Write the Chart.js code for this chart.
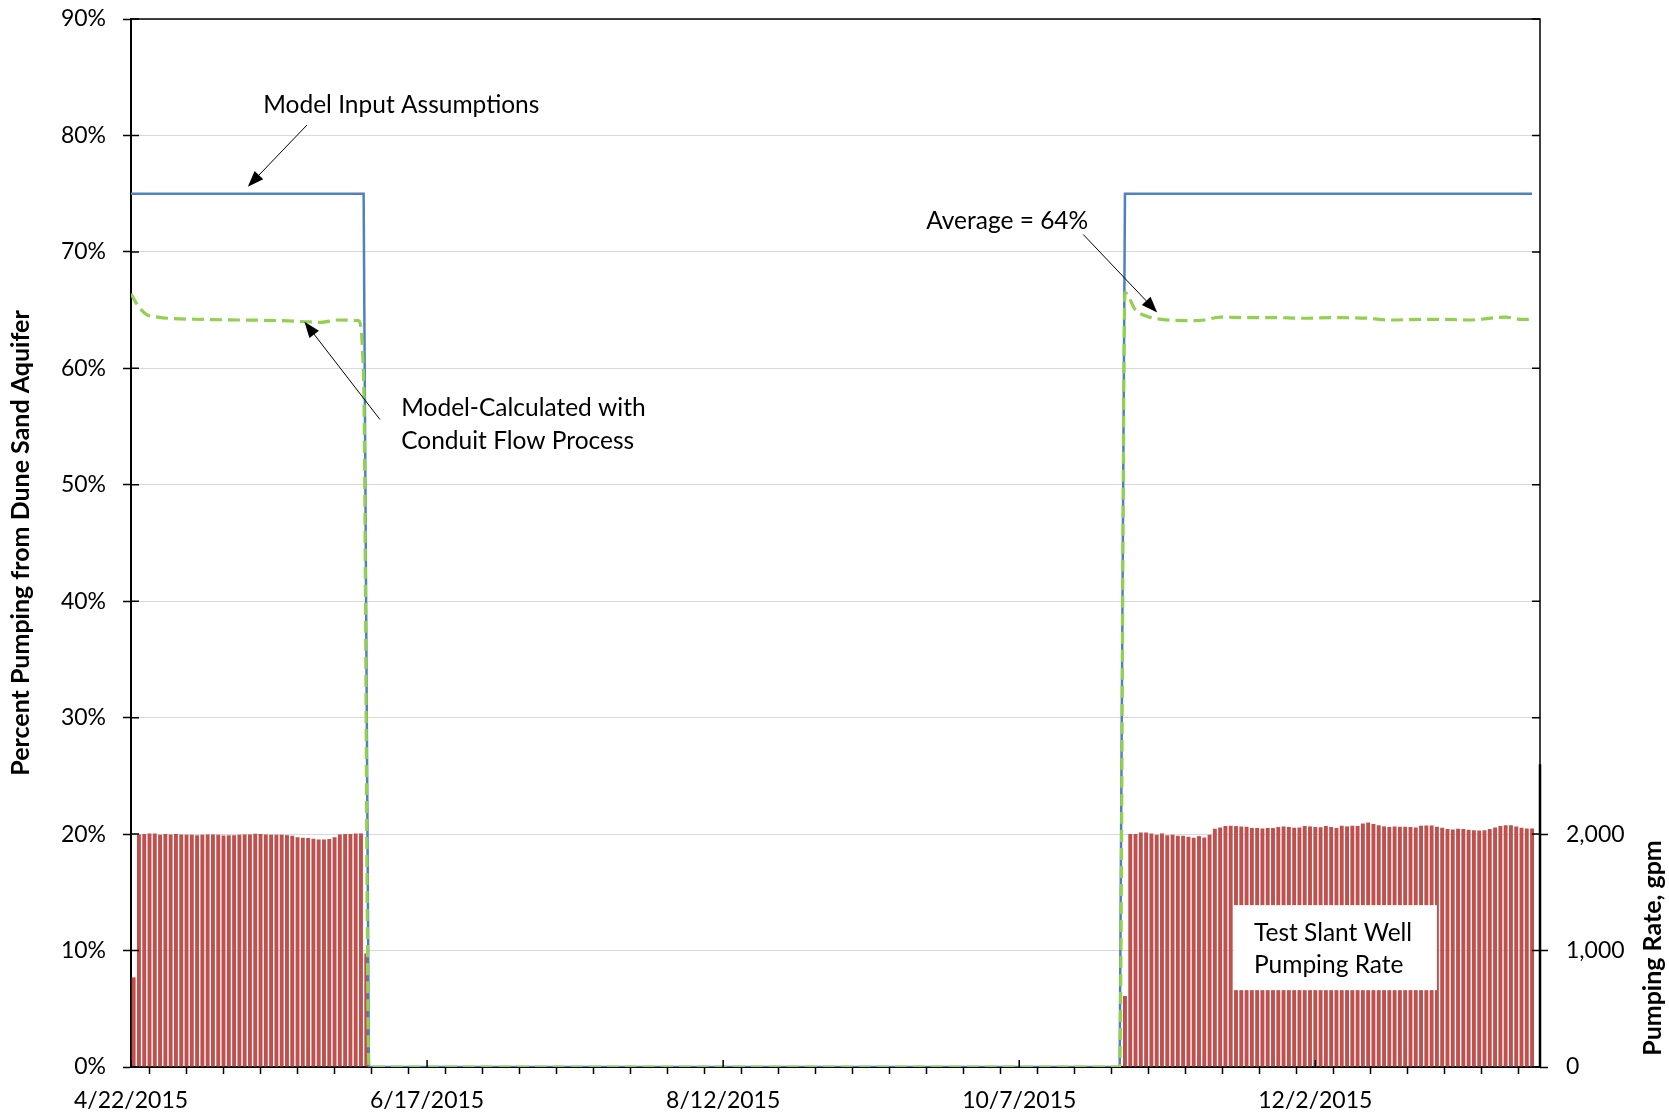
<!DOCTYPE html>
<html>
<head>
<meta charset="utf-8">
<title>Percent Pumping from Dune Sand Aquifer</title>
<script src="https://cdn.jsdelivr.net/npm/chart.js@4.4.0/dist/chart.umd.min.js"></script>
<style>
  body { margin: 0; background: #fff; }
  #wrap { width: 1669px; height: 1115px; }
</style>
</head>
<body>
<div id="wrap"><canvas id="pumpChart" width="1669" height="1115"></canvas></div>
<script>
// day 0 = 4/22/2015
const startDate = new Date(2015, 3, 22);

// Test slant well pumping rate (gpm), one bar per day
const pumpStart1 = 0;
const pumpRate1 = [770,
    1997, 2000, 2006, 2006, 1994, 2000, 1997, 2000, 1997, 1994,
    1994, 1991, 1994, 1997, 1997, 1994, 1989, 1991, 1991, 1994,
    1997, 1997, 2003, 2000, 1997, 1994, 1994, 1994, 1991, 1986,
    1974, 1968, 1966, 1960, 1954, 1954, 1957, 1974, 1997, 2000,
    2000, 2006, 2006,
    975];
const pumpStart2 = 188;
const pumpRate2 = [610,
    2000, 2000, 2014, 2014, 2006, 1994, 2006, 1991, 1994, 1986,
    1986, 1977, 1968, 1983, 1971, 1994, 2046, 2057, 2069, 2072,
    2069, 2066, 2063, 2052, 2052, 2049, 2052, 2052, 2060, 2066,
    2060, 2055, 2057, 2069, 2066, 2060, 2058, 2069, 2060, 2052,
    2072, 2066, 2072, 2069, 2092, 2100, 2086, 2077, 2066, 2060,
    2066, 2063, 2063, 2060, 2057, 2072, 2074, 2074, 2063, 2055,
    2043, 2040, 2046, 2043, 2037, 2034, 2032, 2034, 2043, 2057,
    2069, 2077, 2077, 2066, 2055, 2049, 2049];

// Model input assumptions (%)
const inputDays = [0, 44, 45, 187, 188, 265];
const inputPct = [75, 75, 0, 0, 75, 75];

// Model-calculated with conduit flow process (%)
const cfpDays = [0, 1, 2, 3, 5, 7, 14, 21, 28, 33, 36, 39, 43, 44, 45,
    187, 188, 190, 192, 195, 200, 203, 206, 211, 217, 221, 227, 234, 238, 244, 248, 253, 260, 263, 265];
const cfpPct = [66.4, 65.6, 65.0, 64.6, 64.4, 64.3, 64.2, 64.15, 64.1, 64.0, 63.95, 64.15, 64.1, 59, 0,
    0, 66.5, 65.0, 64.5, 64.2, 64.1, 64.15, 64.4, 64.35, 64.35, 64.3, 64.35, 64.3, 64.15, 64.2, 64.2, 64.15, 64.4, 64.2, 64.2];

// axis ticks
const weekTicks = [];
for (let d = 0; d <= 266; d += 7) weekTicks.push(d);
const pctTicks = [0, 10, 20, 30, 40, 50, 60, 70, 80, 90];
const gpmTicks = [0, 1000, 2000];

function dayLabel(d) {
    const t = new Date(startDate.getTime());
    t.setDate(t.getDate() + d);
    return (t.getMonth() + 1) + '/' + t.getDate() + '/' + t.getFullYear();
}

function toPoints(days, vals) {
    return days.map((d, i) => ({ x: d, y: vals[i] }));
}

const pumpPoints = pumpRate1.map((v, i) => ({ x: pumpStart1 + i + 0.5, y: v }))
    .concat(pumpRate2.map((v, i) => ({ x: pumpStart2 + i, y: v })));

Chart.defaults.font.family = 'Lato';
Chart.defaults.color = '#000';

function arrow(ctx, x1, y1, x2, y2) {
    const ang = Math.atan2(y2 - y1, x2 - x1);
    const len = 16, w = 6;
    ctx.beginPath();
    ctx.moveTo(x1, y1);
    ctx.lineTo(x2 - Math.cos(ang) * len * 0.8, y2 - Math.sin(ang) * len * 0.8);
    ctx.stroke();
    ctx.beginPath();
    ctx.moveTo(x2, y2);
    ctx.lineTo(x2 - Math.cos(ang) * len - Math.sin(ang) * w, y2 - Math.sin(ang) * len + Math.cos(ang) * w);
    ctx.lineTo(x2 - Math.cos(ang) * len + Math.sin(ang) * w, y2 - Math.sin(ang) * len - Math.cos(ang) * w);
    ctx.closePath();
    ctx.fill();
}

// keep the plot area edges fixed, whatever the label padding
function fixVertical(width) {
    return s => {
        s.width = width;
        s.paddingTop = 0;
        s.paddingBottom = 0;
    };
}

// frame, inner tick marks, callouts and the right axis title
const extras = {
    id: 'extras',
    afterDraw(chart) {
        const { ctx, chartArea: a, scales: { x, y, y1 } } = chart;
        const px = d => x.getPixelForValue(d);
        const py = v => y.getPixelForValue(v);
        ctx.save();

        // frame
        ctx.strokeStyle = '#000';
        ctx.lineWidth = 1.5;
        ctx.beginPath();
        ctx.moveTo(a.left, a.top);
        ctx.lineTo(a.right, a.top);
        ctx.lineTo(a.right, a.bottom);
        ctx.stroke();
        ctx.lineWidth = 2.5;
        ctx.beginPath();
        ctx.moveTo(a.right, y1.getPixelForValue(0));
        ctx.lineTo(a.right, y1.getPixelForValue(2600));
        ctx.stroke();

        // inner halves of tick marks
        ctx.lineWidth = 1.5;
        ctx.beginPath();
        pctTicks.forEach(v => {
            ctx.moveTo(a.left, py(v)); ctx.lineTo(a.left + 8, py(v));
            ctx.moveTo(a.right - 8, py(v)); ctx.lineTo(a.right, py(v));
        });
        weekTicks.filter(d => d % 56 === 0).forEach(d => {
            ctx.moveTo(px(d), a.bottom); ctx.lineTo(px(d), a.bottom - 7);
        });
        ctx.stroke();

        // pumping rate label box
        ctx.fillStyle = '#fff';
        const bx1 = px(208.6), bx2 = px(247), by1 = py(13.9), by2 = py(6.6);
        ctx.fillRect(bx1, by1, bx2 - bx1, by2 - by1);

        ctx.fillStyle = '#000';
        ctx.font = '24.5px Lato';
        ctx.textBaseline = 'middle';
        ctx.textAlign = 'left';
        const t = (s, d, v) => ctx.fillText(s, px(d), py(v) + 2);
        t('Test Slant Well', 212.4, 11.7);
        t('Pumping Rate', 212.4, 8.9);

        t('Model Input Assumptions', 25, 82.8);
        t('Average = 64%', 150.4, 72.8);
        t('Model-Calculated with', 51.1, 56.75);
        t('Conduit Flow Process', 51.1, 53.9);

        ctx.strokeStyle = '#000';
        ctx.lineWidth = 1;
        arrow(ctx, px(33.3), py(80.9), px(22.1), py(75.6));
        arrow(ctx, px(180.1), py(71.5), px(194.1), py(64.8));
        arrow(ctx, px(47.1), py(55.6), px(32.8), py(64.0));

        // right axis title
        ctx.font = 'bold 25px Lato';
        ctx.textAlign = 'center';
        ctx.translate(1653, 948);
        ctx.rotate(-Math.PI / 2);
        ctx.fillText('Pumping Rate, gpm', 0, 0);
        ctx.restore();
    }
};

new Chart(document.getElementById('pumpChart'), {
    type: 'bar',
    data: {
        datasets: [
            {
                type: 'line',
                label: 'Model-Calculated with Conduit Flow Process',
                data: toPoints(cfpDays, cfpPct),
                yAxisID: 'y',
                borderColor: '#92D050',
                borderWidth: 3.2,
                borderDash: [12, 6],
                pointRadius: 0,
                cubicInterpolationMode: 'monotone',
                order: 0
            },
            {
                type: 'line',
                label: 'Model Input Assumptions',
                data: toPoints(inputDays, inputPct),
                yAxisID: 'y',
                borderColor: '#4F81BD',
                borderWidth: 2.5,
                pointRadius: 0,
                tension: 0,
                order: 1
            },
            {
                label: 'Test Slant Well Pumping Rate',
                data: pumpPoints,
                yAxisID: 'y1',
                backgroundColor: '#C0504D',
                borderWidth: 0,
                barPercentage: 0.74,
                categoryPercentage: 1,
                order: 2
            }
        ]
    },
    options: {
        responsive: false,
        animation: false,
        layout: { padding: { top: 19, left: 0, right: 0, bottom: 0 } },
        plugins: {
            legend: { display: false },
            tooltip: { enabled: false }
        },
        scales: {
            x: {
                type: 'linear',
                min: 0,
                max: 266.5,
                offset: false,
                afterBuildTicks: s => { s.ticks = weekTicks.map(v => ({ value: v })); },
                afterFit: s => { s.height = 48; },
                ticks: {
                    autoSkip: false,
                    maxRotation: 0,
                    minRotation: 0,
                    padding: 13,
                    font: { size: 23 },
                    callback: v => (v % 56 === 0 ? dayLabel(v) : '')
                },
                grid: { drawOnChartArea: false, tickLength: 7, tickColor: '#000', tickWidth: 1.5 },
                border: { color: '#000', width: 2 }
            },
            y: {
                position: 'left',
                min: 0,
                max: 90,
                afterBuildTicks: s => { s.ticks = pctTicks.map(v => ({ value: v })); },
                afterFit: fixVertical(131),
                ticks: {
                    padding: 17,
                    font: { size: 23 },
                    callback: v => v + '%'
                },
                grid: { color: '#D9D9D9', lineWidth: 1, tickLength: 8, tickColor: '#000', tickWidth: 1.5 },
                border: { color: '#000', width: 2 },
                title: {
                    display: true,
                    text: 'Percent Pumping from Dune Sand Aquifer',
                    font: { size: 25, weight: 'bold' },
                    padding: { top: 6, bottom: 0 }
                }
            },
            y1: {
                position: 'right',
                min: 0,
                max: 9000,
                afterBuildTicks: s => { s.ticks = gpmTicks.map(v => ({ value: v })); },
                afterFit: fixVertical(129),
                ticks: {
                    padding: 18,
                    font: { size: 23 },
                    callback: v => v.toLocaleString('en-US')
                },
                grid: { drawOnChartArea: false, tickLength: 8, tickColor: '#000', tickWidth: 1.5 },
                border: { display: false }
            }
        }
    },
    plugins: [extras]
});
</script>
</body>
</html>
